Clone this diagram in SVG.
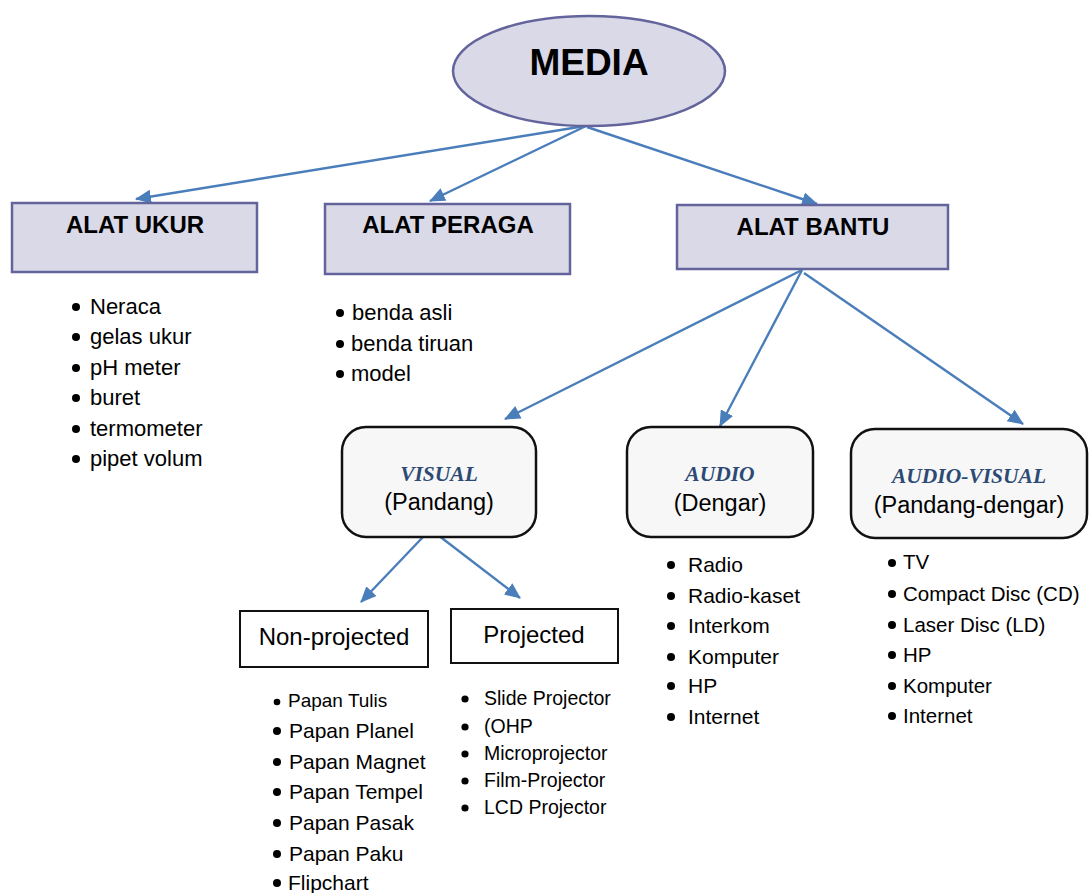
<svg xmlns="http://www.w3.org/2000/svg" width="1089" height="893" viewBox="0 0 1089 893">
<style>
.top{fill:#d9d9e7;stroke:#64649c;stroke-width:2.5}
.rnd{fill:#f7f7f7;stroke:#111;stroke-width:2.5}
.plain{fill:#fff;stroke:#111;stroke-width:2}
.h{font-family:"Liberation Sans",Arial,sans-serif;font-weight:bold;font-size:24px;fill:#000;text-anchor:middle}
.t{font-family:"Liberation Sans",Arial,sans-serif;fill:#000}
.it{font-family:"Liberation Serif","Times New Roman",serif;font-weight:bold;font-style:italic;font-size:21.5px;fill:#2c4a74;text-anchor:middle}
.c{text-anchor:middle;font-size:23.5px}
.con line{stroke:#4a7ebb;stroke-width:2.4;marker-end:url(#ah)}
</style>
<defs>
<marker id="ah" markerUnits="userSpaceOnUse" markerWidth="16" markerHeight="14" refX="15" refY="7" orient="auto">
<path d="M0,0 L16,7 L0,14 z" fill="#4a7ebb"/>
</marker>
</defs>
<rect width="1089" height="893" fill="#fff"/>

<g id="connectors" class="con">
<line x1="585" y1="126" x2="136" y2="199"/>
<line x1="586" y1="126" x2="430" y2="201"/>
<line x1="587" y1="127" x2="817" y2="204"/>
<line x1="802" y1="270" x2="505" y2="419"/>
<line x1="802" y1="270" x2="720" y2="426"/>
<line x1="804" y1="273" x2="1023" y2="424"/>
<line x1="423" y1="537" x2="361" y2="602"/>
<line x1="434" y1="532" x2="520" y2="598"/>
</g>

<g id="media">
<ellipse cx="589" cy="71" rx="136" ry="55" class="top"/>
<text x="589" y="75" class="h" style="font-size:37px">MEDIA</text>
</g>

<g id="alat-ukur">
<rect x="12" y="203" width="245" height="69" class="top"/>
<text x="135" y="233" class="h">ALAT UKUR</text>
</g>
<g id="alat-ukur-list" class="t" font-size="22">
<circle cx="76" cy="307" r="4"/><text x="90" y="314">Neraca</text>
<circle cx="76" cy="337" r="4"/><text x="90" y="344">gelas ukur</text>
<circle cx="76" cy="368" r="4"/><text x="90" y="375">pH meter</text>
<circle cx="76" cy="398" r="4"/><text x="90" y="405">buret</text>
<circle cx="76" cy="429" r="4"/><text x="90" y="436">termometer</text>
<circle cx="76" cy="459" r="4"/><text x="90" y="466">pipet volum</text>
</g>

<g id="alat-peraga">
<rect x="325" y="204" width="245" height="70" class="top"/>
<text x="448" y="233" class="h">ALAT PERAGA</text>
</g>
<g id="alat-peraga-list" class="t" font-size="22">
<circle cx="340" cy="313" r="4"/><text x="352" y="320">benda asli</text>
<circle cx="340" cy="344" r="4"/><text x="351" y="351">benda tiruan</text>
<circle cx="340" cy="374" r="4"/><text x="351" y="381">model</text>
</g>

<g id="alat-bantu">
<rect x="677" y="205" width="271" height="64" class="top"/>
<text x="813" y="235" class="h">ALAT BANTU</text>
</g>

<g id="visual">
<rect x="342" y="427" width="194" height="110" rx="24" class="rnd"/>
<text x="439" y="481" class="it">VISUAL</text>
<text x="439" y="510" class="t c">(Pandang)</text>
</g>

<g id="audio">
<rect x="627" y="427" width="186" height="110" rx="24" class="rnd"/>
<text x="720" y="481" class="it">AUDIO</text>
<text x="720" y="511" class="t c">(Dengar)</text>
</g>
<g id="audio-list" class="t" font-size="21">
<circle cx="671" cy="565" r="4"/><text x="688" y="572">Radio</text>
<circle cx="671" cy="596" r="4"/><text x="688" y="603">Radio-kaset</text>
<circle cx="671" cy="626" r="4"/><text x="688" y="633">Interkom</text>
<circle cx="671" cy="657" r="4"/><text x="688" y="664">Komputer</text>
<circle cx="671" cy="686" r="4"/><text x="688" y="693">HP</text>
<circle cx="671" cy="717" r="4"/><text x="688" y="724">Internet</text>
</g>

<g id="audio-visual">
<rect x="851" y="429" width="236" height="109" rx="24" class="rnd"/>
<text x="969" y="483" class="it">AUDIO-VISUAL</text>
<text x="969" y="513" class="t c">(Pandang-dengar)</text>
</g>
<g id="audio-visual-list" class="t" font-size="20.5">
<circle cx="892" cy="563" r="4"/><text x="903" y="569">TV</text>
<circle cx="892" cy="594" r="4"/><text x="903" y="601">Compact Disc (CD)</text>
<circle cx="892" cy="625" r="4"/><text x="903" y="632">Laser Disc (LD)</text>
<circle cx="892" cy="655" r="4"/><text x="903" y="662">HP</text>
<circle cx="892" cy="686" r="4"/><text x="903" y="693">Komputer</text>
<circle cx="892" cy="716" r="4"/><text x="903" y="723">Internet</text>
</g>

<g id="non-projected">
<rect x="240" y="611" width="188" height="56" class="plain"/>
<text x="334" y="645" class="t" font-size="24" text-anchor="middle">Non-projected</text>
</g>
<g id="non-projected-list" class="t" font-size="21">
<circle cx="277" cy="702" r="3.3"/><text x="288" y="707" font-size="19">Papan Tulis</text>
<circle cx="277" cy="731" r="4"/><text x="289" y="738">Papan Planel</text>
<circle cx="277" cy="762" r="4"/><text x="289" y="769">Papan Magnet</text>
<circle cx="277" cy="792" r="4"/><text x="289" y="799">Papan Tempel</text>
<circle cx="277" cy="823" r="4"/><text x="289" y="830">Papan Pasak</text>
<circle cx="277" cy="854" r="4"/><text x="289" y="861">Papan Paku</text>
<circle cx="277" cy="883" r="4"/><text x="288" y="890">Flipchart</text>
</g>

<g id="projected">
<rect x="451" y="609" width="167" height="54" class="plain"/>
<text x="534" y="643" class="t" font-size="24" text-anchor="middle">Projected</text>
</g>
<g id="projected-list" class="t" font-size="19.5">
<circle cx="465" cy="699" r="3.6"/><text x="484" y="705">Slide Projector</text>
<circle cx="465" cy="727" r="3.6"/><text x="484" y="733">(OHP</text>
<circle cx="465" cy="754" r="3.6"/><text x="484" y="760">Microprojector</text>
<circle cx="465" cy="781" r="3.6"/><text x="484" y="787">Film-Projector</text>
<circle cx="465" cy="808" r="3.6"/><text x="484" y="814">LCD Projector</text>
</g>
</svg>
